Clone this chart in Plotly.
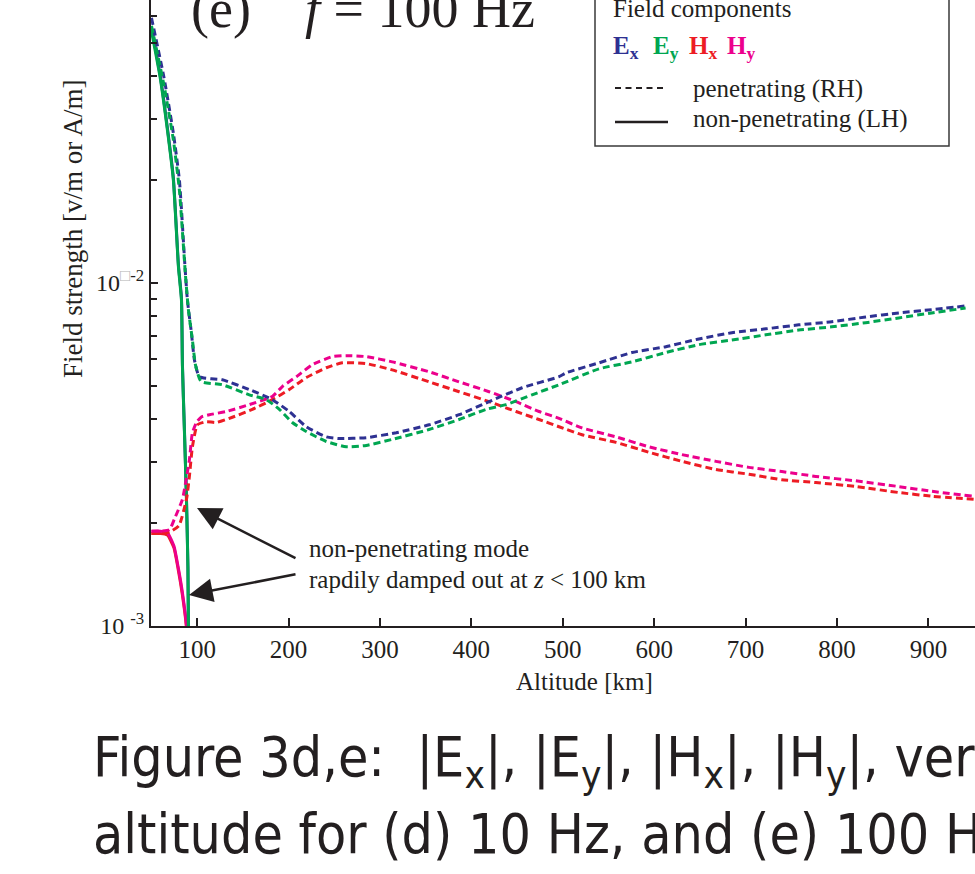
import plotly.graph_objects as go

# ---- field strength vs altitude, f = 100 Hz ----
# penetrating (RH) mode
alt_ex_rh = [50, 63.7, 74.0, 80.6, 86.7, 89.3, 93.7, 97.0, 102.5, 127.6, 157.1, 182.2, 200.8,
             219.4, 241.3, 255.5, 285.0, 317.8, 353.8, 386.6, 419.4, 455.5, 495.9, 503.6,
             539.6, 575.7, 612.8, 648.9, 685.0, 722.1, 758.2, 794.3, 831.4, 867.5, 903.6, 940.7]
ex_rh = [0.0593, 0.0397, 0.0273, 0.0199, 0.01114, 0.00893, 0.00716, 0.00597, 0.00533, 0.00522,
         0.00489, 0.00457, 0.00422, 0.00381, 0.00356, 0.00352, 0.00354, 0.00366, 0.00386,
         0.00413, 0.00451, 0.00495, 0.00533, 0.00547, 0.00585, 0.00627, 0.00652, 0.00687,
         0.00716, 0.00735, 0.00755, 0.00771, 0.00796, 0.00818, 0.00836, 0.00857]

alt_ey_rh = [50, 63.7, 74.0, 80.6, 87.2, 90.4, 94.8, 98.1, 104.3, 127.6, 157.1, 175.7, 189.9,
             204.1, 219.4, 241.3, 263.1, 285.0, 313.4, 353.8, 386.6, 416.1, 438.0, 466.4, 495.9,
             539.6, 575.7, 612.8, 648.9, 685.0, 722.1, 758.2, 794.3, 831.4, 867.5, 903.6, 940.7]
ey_rh = [0.0562, 0.0377, 0.0261, 0.0186, 0.01054, 0.00836, 0.00682, 0.00578, 0.00516, 0.00505,
         0.00472, 0.00457, 0.00428, 0.00392, 0.00369, 0.00345, 0.00333, 0.00336, 0.00350,
         0.00374, 0.00400, 0.00428, 0.00442, 0.00472, 0.00505, 0.00562, 0.00589, 0.00627,
         0.00661, 0.00682, 0.00706, 0.00729, 0.00745, 0.00766, 0.00791, 0.00818, 0.00845]

alt_hx_rh = [50, 60, 70, 80, 88.3, 91.5, 94.8, 100.3, 110.1, 121.0, 138.5, 160.4, 182.2, 200.8,
             219.4, 241.3, 258.7, 285.0, 313.4, 353.8, 386.6, 419.4, 448.9, 474.0, 495.9, 521.0,
             558.2, 594.3, 630.3, 667.5, 703.6, 739.6, 776.8, 820.5, 867.5, 903.6, 949.5]
hx_rh = [0.00186, 0.00186, 0.00188, 0.00196, 0.00234, 0.00273, 0.00333, 0.00386, 0.00394,
         0.00392, 0.00406, 0.00428, 0.00457, 0.00489, 0.00530, 0.00566, 0.00585, 0.00582,
         0.00558, 0.00515, 0.00482, 0.00451, 0.00422, 0.00400, 0.00381, 0.00361, 0.00343,
         0.00321, 0.00302, 0.00286, 0.00277, 0.00267, 0.00262, 0.00255, 0.00245, 0.00239, 0.00234]

alt_hy_rh = [50, 60, 69.7, 75.1, 83.9, 87.9, 91.5, 94.8, 99.2, 104.6, 113.4, 132.0, 157.1, 182.2,
             193.2, 208.5, 226.0, 247.8, 263.1, 285.0, 313.4, 353.8, 386.6, 419.4, 448.9, 474.0,
             495.9, 521.0, 558.2, 594.3, 630.3, 667.5, 703.6, 739.6, 776.8, 820.5, 867.5, 903.6,
             949.5]
hy_rh = [0.00189, 0.00189, 0.00191, 0.00205, 0.00234, 0.00267, 0.00305, 0.00366, 0.00392,
         0.00407, 0.00413, 0.00422, 0.00442, 0.00467, 0.00499, 0.00533, 0.00578, 0.00610,
         0.00614, 0.00610, 0.00589, 0.00551, 0.00515, 0.00482, 0.00451, 0.00422, 0.00403,
         0.00378, 0.00356, 0.00333, 0.00316, 0.00302, 0.00290, 0.00282, 0.00273, 0.00265,
         0.00255, 0.00247, 0.00239]

# non-penetrating (LH) mode
alt_e_lh = [50, 59.5, 67.9, 74.0, 79.5, 82.8, 83.9, 86.1, 88.3, 89.9, 90.4, 91.5]
ex_lh = [0.0556, 0.0403, 0.0277, 0.0202, 0.0113, 0.00906, 0.00578, 0.00372, 0.00237, 0.00149,
         0.00101, 0.00062]
ey_lh = [0.0543, 0.0397, 0.0273, 0.0199, 0.01114, 0.00893, 0.00570, 0.00366, 0.00234, 0.00147,
         0.00100, 0.00061]

alt_h_lh = [50, 60, 67.5, 74.6, 79.1, 83.7, 88.3, 89.3]
hx_lh = [0.00186, 0.00186, 0.00184, 0.00169, 0.00147, 0.00124, 0.00099, 0.00079]
hy_lh = [0.00189, 0.00189, 0.00187, 0.00171, 0.00149, 0.00126, 0.00100, 0.00080]

x_ticks = [100, 200, 300, 400, 500, 600, 700, 800, 900]
y_ticks = [0.001, 0.01]
y_ticktext = ["10 <sup>-3</sup>", "10<sup><span style='color:#b4b4b4'>\u25a1</span>-2</sup>"]
y_minor = [0.002, 0.003, 0.004, 0.005, 0.006, 0.007, 0.008, 0.009,
           0.02, 0.03, 0.04, 0.05, 0.06]

C_EX, C_EY, C_HX, C_HY = "#2E3192", "#00A651", "#ED1C24", "#EC008C"
INK = "#231F20"
SERIF = "Liberation Serif, Times New Roman, serif"
CAPTION = "DejaVu Sans Condensed, Liberation Sans Narrow, sans-serif"

W, H = 975, 874
PL, PR, PT, PB = 151, 975, 0, 626


def fx(x):
    return (x - PL) / (PR - PL)


def fy(y):
    return (PB - y) / (PB - PT)


fig = go.Figure()

DASH = "7px,4px"
for xs, ys, col in [(alt_h_lh, hx_lh, C_HX), (alt_h_lh, hy_lh, C_HY),
                    (alt_e_lh, ex_lh, C_EX), (alt_e_lh, ey_lh, C_EY)]:
    fig.add_trace(go.Scatter(x=xs, y=ys, mode="lines",
                             line=dict(color=col, width=3, shape="spline", smoothing=0.5),
                             showlegend=False, hoverinfo="skip"))
for xs, ys, col in [(alt_hx_rh, hx_rh, C_HX), (alt_hy_rh, hy_rh, C_HY),
                    (alt_ex_rh, ex_rh, C_EX), (alt_ey_rh, ey_rh, C_EY)]:
    fig.add_trace(go.Scatter(x=xs, y=ys, mode="lines",
                             line=dict(color=col, width=3, dash=DASH, shape="spline",
                                       smoothing=0.5),
                             showlegend=False, hoverinfo="skip"))

ann = []


def text(s, x, y, size, family=SERIF, xanchor="left", color=INK, **kw):
    ann.append(dict(text=s, x=fx(x), y=fy(y), xref="paper", yref="paper",
                    xanchor=xanchor, yanchor="middle", showarrow=False,
                    font=dict(family=family, size=size, color=color), **kw))


# panel title
text("(e)\u00a0\u00a0\u00a0 <i>f</i> = 100 Hz", 189, 9, 54)
# axis titles
text("Altitude [km]", 584, 681, 25, xanchor="center")
text("Field strength [v/m or A/m]", 73, 229, 27, xanchor="center", textangle=-90)
# legend box contents
text("Field components", 611, 8.5, 25)
for lab, x0, col in [("E<sub>x</sub>", 611, C_EX), ("E<sub>y</sub>", 651, C_EY),
                     ("H<sub>x</sub>", 687, C_HX), ("H<sub>y</sub>", 725, C_HY)]:
    text("<b>" + lab + "</b>", x0, 47, 25, color=col)
text("penetrating (RH)", 691, 88.5, 25)
text("non-penetrating (LH)", 691, 119.5, 25)
# mode annotation
text("non-penetrating mode", 307, 548.5, 25)
text("rapdily damped out at <i>z</i> < 100 km", 307, 579.5, 25)
# caption
text("Figure 3d,e:\u00a0 |E<sub>x</sub>|, |E<sub>y</sub>|, |H<sub>x</sub>|, |H<sub>y</sub>|, versus",
     91, 761, 55, family=CAPTION, color=INK)
text("altitude for (d) 10 Hz, and (e) 100 Hz", 91, 834, 55, family=CAPTION, color=INK)

# arrows toward the damped curves
for hx_, hy_, tx, ty in [(197, 508, 297, 559), (189, 595, 297, 574)]:
    ann.append(dict(x=fx(hx_), y=fy(hy_), xref="paper", yref="paper", text="",
                    showarrow=True, ax=tx - hx_, ay=ty - hy_, arrowhead=2, arrowsize=1.9,
                    arrowwidth=2.5, arrowcolor=INK, standoff=0))

shapes = [
    dict(type="rect", xref="paper", yref="paper", x0=fx(595), x1=fx(949), y0=fy(146),
         y1=fy(-10), line=dict(color="#3a3a3a", width=1.5), fillcolor="white", layer="above"),
    dict(type="line", xref="paper", yref="paper", x0=fx(615), x1=fx(664), y0=fy(88),
         y1=fy(88), line=dict(color=INK, width=2, dash="6px,4.5px")),
    dict(type="line", xref="paper", yref="paper", x0=fx(615), x1=fx(668), y0=fy(122),
         y1=fy(122), line=dict(color=INK, width=2.5)),
]

fig.update_layout(
    width=W, height=H,
    margin=dict(l=PL, r=W - PR, t=PT, b=H - PB, pad=0),
    paper_bgcolor="white", plot_bgcolor="white",
    showlegend=False,
    annotations=ann, shapes=shapes,
    xaxis=dict(range=[49.5, 951], showgrid=False, zeroline=False, showline=True,
               linewidth=2, linecolor=INK, ticks="inside", ticklen=8, tickwidth=1.5,
               tickcolor=INK, tickmode="array", tickvals=x_ticks,
               tickfont=dict(family=SERIF, size=25, color=INK)),
    yaxis=dict(type="log", range=[-3, -1.175], showgrid=False, zeroline=False, showline=True,
               linewidth=2, linecolor=INK, ticks="inside", ticklen=7, tickwidth=1.5,
               tickcolor=INK, tickmode="array", tickvals=y_ticks, ticktext=y_ticktext,
               tickfont=dict(family=SERIF, size=24, color=INK),
               minor=dict(ticks="inside", ticklen=6, tickwidth=1.5, tickcolor=INK,
                          tickmode="array", tickvals=y_minor, showgrid=False)),
)

fig.write_html("out.html")
